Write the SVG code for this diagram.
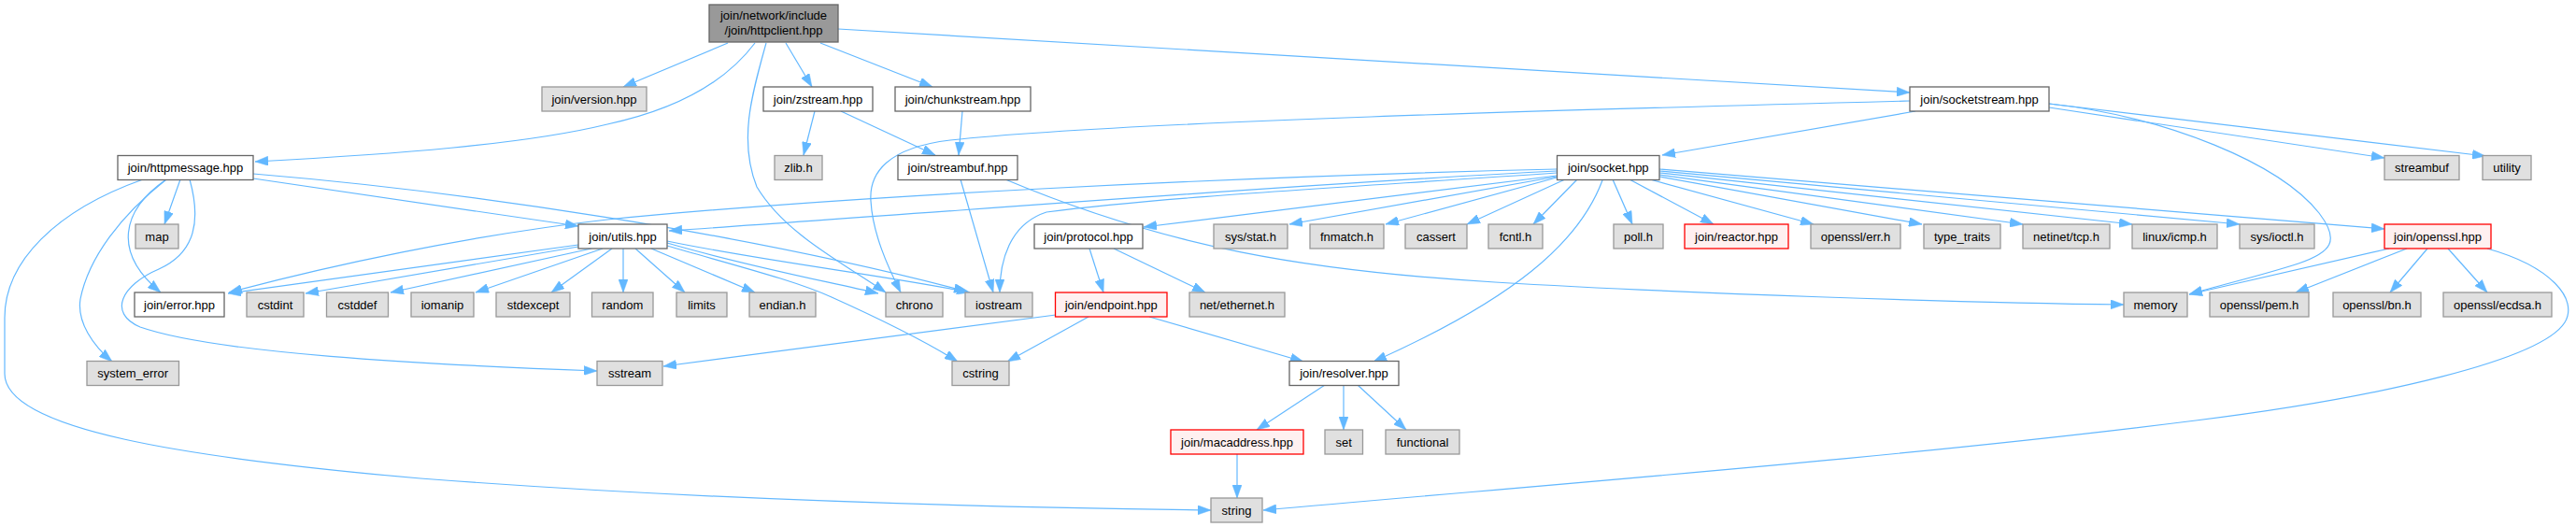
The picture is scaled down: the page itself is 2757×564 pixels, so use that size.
<svg xmlns="http://www.w3.org/2000/svg" width="2757" height="564" viewBox="0 0 2757 564">
<style>
rect{stroke-width:1.3}
.g rect{fill:#e0e0e0;stroke:#999999}
.w rect{fill:#ffffff;stroke:#666666}
.r rect{fill:#fff0f0;stroke:#ff0000}
.t rect{fill:#999999;stroke:#666666}
text{font-family:"Liberation Sans",Arial,sans-serif;font-size:13px;text-anchor:middle;fill:#000}
#edges path{fill:none;stroke:#63b8ff;stroke-width:1.2;marker-end:url(#ah)}
</style>
<defs>
<marker id="ah" markerUnits="userSpaceOnUse" markerWidth="14" markerHeight="10" viewBox="0 0 14 10" refX="14" refY="5" orient="auto">
<path d="M0,0 L14,5 L0,10 z" fill="#63b8ff" stroke="#63b8ff" stroke-width="0.5"/>
</marker>
</defs>
<rect width="2757" height="564" fill="#ffffff"/>
<g id="edges">
<path d="M779,46 L667,93"/>
<path d="M808,46 C775,90 720,118 650,133 C560,155 420,165 273,173"/>
<path d="M820,46 C805,100 790,150 810,200 C840,250 900,280 948,313"/>
<path d="M841,46 L869,93"/>
<path d="M878,46 L998,93"/>
<path d="M897,31 L2044,99"/>
<path d="M872,119 L860,166"/>
<path d="M900,119 L1001,166"/>
<path d="M1030,119 L1026,166"/>
<path d="M1028,192 L1063,313"/>
<path d="M1076,192 C1250,265 1400,290 1600,302 C1800,314 2100,324 2273,326"/>
<path d="M2050,119 L1779,166"/>
<path d="M2044,108 C1700,117 1200,130 1017,150 C950,158 930,185 932,215 C934,250 950,285 964,313"/>
<path d="M2193,111 C2320,125 2440,175 2482,228 C2505,258 2495,270 2460,282 C2420,295 2380,304 2343,315"/>
<path d="M2193,115 L2552,169"/>
<path d="M2193,111 L2660,167"/>
<path d="M193,192 L176,240"/>
<path d="M271,191 L619,242"/>
<path d="M271,186 C500,205 800,250 1035,312"/>
<path d="M178,192 C130,225 120,270 172,313"/>
<path d="M178,192 C130,230 95,275 86,320 C82,345 100,370 120,387"/>
<path d="M203,192 C215,235 210,270 170,288 C130,305 115,335 150,350 C230,378 450,390 639,397"/>
<path d="M153,192 C60,225 5,280 5,340 L5,400 C5,460 200,490 450,512 C750,535 1050,543 1296,546"/>
<path d="M619,262 L244,314"/>
<path d="M619,264 L327,314"/>
<path d="M633,266 L418,313"/>
<path d="M645,266 L509,313"/>
<path d="M655,266 L590,313"/>
<path d="M667,266 L667,313"/>
<path d="M680,266 L733,313"/>
<path d="M697,266 L808,313"/>
<path d="M714,260 C800,285 880,300 940,314"/>
<path d="M714,258 C820,280 950,295 1038,313"/>
<path d="M714,263 C790,285 850,300 890,318 C950,345 990,365 1025,387"/>
<path d="M1666,181 C1300,190 900,210 650,235 C500,252 350,285 245,313"/>
<path d="M1666,183 C1400,196 1000,228 716,247"/>
<path d="M1666,185 C1450,200 1250,210 1120,227 C1080,240 1070,280 1070,313"/>
<path d="M1666,188 C1500,210 1350,227 1224,243"/>
<path d="M1666,189 L1380,240"/>
<path d="M1666,190 L1483,240"/>
<path d="M1675,192 L1570,240"/>
<path d="M1688,192 L1641,240"/>
<path d="M1715,193 C1690,260 1620,320 1470,387"/>
<path d="M1726,192 L1747,240"/>
<path d="M1744,192 L1834,240"/>
<path d="M1766,192 L1941,240"/>
<path d="M1776,189 L2057,240"/>
<path d="M1776,187 L2165,240"/>
<path d="M1776,185 L2282,240"/>
<path d="M1776,183 L2397,240"/>
<path d="M1776,181 L2552,245"/>
<path d="M1166,266 L1181,313"/>
<path d="M1192,266 L1290,313"/>
<path d="M1130,337 L710,392"/>
<path d="M1165,339 L1078,387"/>
<path d="M1230,339 L1395,387"/>
<path d="M1418,412 L1345,460"/>
<path d="M1438,412 L1438,460"/>
<path d="M1453,412 L1505,460"/>
<path d="M1324,486 L1324,533"/>
<path d="M2557,266 L2343,315"/>
<path d="M2576,266 L2457,313"/>
<path d="M2598,266 L2558,313"/>
<path d="M2620,266 L2662,313"/>
<path d="M2662,266 C2730,285 2760,320 2745,345 C2720,385 2550,425 2350,450 C2050,488 1700,515 1352,546"/>
</g>
<g id="httpclient" class="t"><rect x="759" y="5" width="138" height="40"/><text x="828" y="21">join/network/include</text><text x="828" y="37">/join/httpclient.hpp</text></g>
<g id="version" class="g"><rect x="580" y="93" width="112" height="26"/><text x="636" y="110.5">join/version.hpp</text></g>
<g id="zstream" class="w"><rect x="817" y="93" width="117" height="26"/><text x="875.5" y="110.5">join/zstream.hpp</text></g>
<g id="chunkstream" class="w"><rect x="958" y="93" width="145" height="26"/><text x="1030.5" y="110.5">join/chunkstream.hpp</text></g>
<g id="socketstream" class="w"><rect x="2044" y="93" width="149" height="26"/><text x="2118.5" y="110.5">join/socketstream.hpp</text></g>
<g id="httpmessage" class="w"><rect x="126" y="166.5" width="145" height="26"/><text x="198.5" y="184">join/httpmessage.hpp</text></g>
<g id="zlib" class="g"><rect x="829" y="166.5" width="51" height="26"/><text x="854.5" y="184">zlib.h</text></g>
<g id="streambufhpp" class="w"><rect x="961" y="166.5" width="128" height="26"/><text x="1025" y="184">join/streambuf.hpp</text></g>
<g id="socket" class="w"><rect x="1666.5" y="166.5" width="109.5" height="26"/><text x="1721.25" y="184">join/socket.hpp</text></g>
<g id="streambuf" class="g"><rect x="2552" y="166.5" width="80" height="26"/><text x="2592" y="184">streambuf</text></g>
<g id="utility" class="g"><rect x="2657" y="166.5" width="52" height="26"/><text x="2683" y="184">utility</text></g>
<g id="map" class="g"><rect x="145" y="240" width="46" height="26"/><text x="168" y="257.5">map</text></g>
<g id="utils" class="w"><rect x="619" y="240" width="95" height="26"/><text x="666.5" y="257.5">join/utils.hpp</text></g>
<g id="protocol" class="w"><rect x="1107" y="240" width="116" height="26"/><text x="1165" y="257.5">join/protocol.hpp</text></g>
<g id="sysstat" class="g"><rect x="1299" y="240" width="79" height="26"/><text x="1338.5" y="257.5">sys/stat.h</text></g>
<g id="fnmatch" class="g"><rect x="1402" y="240" width="79" height="26"/><text x="1441.5" y="257.5">fnmatch.h</text></g>
<g id="cassert" class="g"><rect x="1504" y="240" width="66" height="26"/><text x="1537" y="257.5">cassert</text></g>
<g id="fcntl" class="g"><rect x="1593" y="240" width="58" height="26"/><text x="1622" y="257.5">fcntl.h</text></g>
<g id="poll" class="g"><rect x="1727" y="240" width="53" height="26"/><text x="1753.5" y="257.5">poll.h</text></g>
<g id="reactor" class="r"><rect x="1803" y="240" width="111" height="26"/><text x="1858.5" y="257.5">join/reactor.hpp</text></g>
<g id="sslerr" class="g"><rect x="1938" y="240" width="96" height="26"/><text x="1986" y="257.5">openssl/err.h</text></g>
<g id="typetraits" class="g"><rect x="2059" y="240" width="82" height="26"/><text x="2100" y="257.5">type_traits</text></g>
<g id="netinet" class="g"><rect x="2165" y="240" width="93" height="26"/><text x="2211.5" y="257.5">netinet/tcp.h</text></g>
<g id="icmp" class="g"><rect x="2282" y="240" width="91" height="26"/><text x="2327.5" y="257.5">linux/icmp.h</text></g>
<g id="ioctl" class="g"><rect x="2397" y="240" width="80" height="26"/><text x="2437" y="257.5">sys/ioctl.h</text></g>
<g id="openssl" class="r"><rect x="2552" y="240" width="114" height="26"/><text x="2609" y="257.5">join/openssl.hpp</text></g>
<g id="error" class="w"><rect x="144" y="313" width="96" height="26"/><text x="192" y="330.5">join/error.hpp</text></g>
<g id="cstdint" class="g"><rect x="264" y="313" width="61" height="26"/><text x="294.5" y="330.5">cstdint</text></g>
<g id="cstddef" class="g"><rect x="349.5" y="313" width="66" height="26"/><text x="382.5" y="330.5">cstddef</text></g>
<g id="iomanip" class="g"><rect x="440" y="313" width="67" height="26"/><text x="473.5" y="330.5">iomanip</text></g>
<g id="stdexcept" class="g"><rect x="531" y="313" width="79" height="26"/><text x="570.5" y="330.5">stdexcept</text></g>
<g id="random" class="g"><rect x="633.5" y="313" width="65.5" height="26"/><text x="666.25" y="330.5">random</text></g>
<g id="limits" class="g"><rect x="724" y="313" width="54" height="26"/><text x="751" y="330.5">limits</text></g>
<g id="endian" class="g"><rect x="802" y="313" width="71" height="26"/><text x="837.5" y="330.5">endian.h</text></g>
<g id="chrono" class="g"><rect x="948" y="313" width="61" height="26"/><text x="978.5" y="330.5">chrono</text></g>
<g id="iostream" class="g"><rect x="1033" y="313" width="72" height="26"/><text x="1069" y="330.5">iostream</text></g>
<g id="endpoint" class="r"><rect x="1129.5" y="313" width="119.5" height="26"/><text x="1189.25" y="330.5">join/endpoint.hpp</text></g>
<g id="ethernet" class="g"><rect x="1273" y="313" width="102" height="26"/><text x="1324" y="330.5">net/ethernet.h</text></g>
<g id="memory" class="g"><rect x="2273" y="313" width="68" height="26"/><text x="2307" y="330.5">memory</text></g>
<g id="pem" class="g"><rect x="2365" y="313" width="106" height="26"/><text x="2418" y="330.5">openssl/pem.h</text></g>
<g id="bn" class="g"><rect x="2497" y="313" width="94" height="26"/><text x="2544" y="330.5">openssl/bn.h</text></g>
<g id="ecdsa" class="g"><rect x="2615" y="313" width="116" height="26"/><text x="2673" y="330.5">openssl/ecdsa.h</text></g>
<g id="systemerror" class="g"><rect x="93" y="386.5" width="98.5" height="26"/><text x="142.25" y="404">system_error</text></g>
<g id="sstream" class="g"><rect x="639" y="386.5" width="70" height="26"/><text x="674" y="404">sstream</text></g>
<g id="cstring" class="g"><rect x="1019" y="386.5" width="61" height="26"/><text x="1049.5" y="404">cstring</text></g>
<g id="resolver" class="w"><rect x="1380" y="386.5" width="117" height="26"/><text x="1438.5" y="404">join/resolver.hpp</text></g>
<g id="macaddress" class="r"><rect x="1253" y="460" width="142" height="26"/><text x="1324" y="477.5">join/macaddress.hpp</text></g>
<g id="set" class="g"><rect x="1418" y="460" width="40.5" height="26"/><text x="1438.25" y="477.5">set</text></g>
<g id="functional" class="g"><rect x="1483" y="460" width="79" height="26"/><text x="1522.5" y="477.5">functional</text></g>
<g id="string" class="g"><rect x="1296" y="533" width="55" height="26"/><text x="1323.5" y="550.5">string</text></g>
</svg>
